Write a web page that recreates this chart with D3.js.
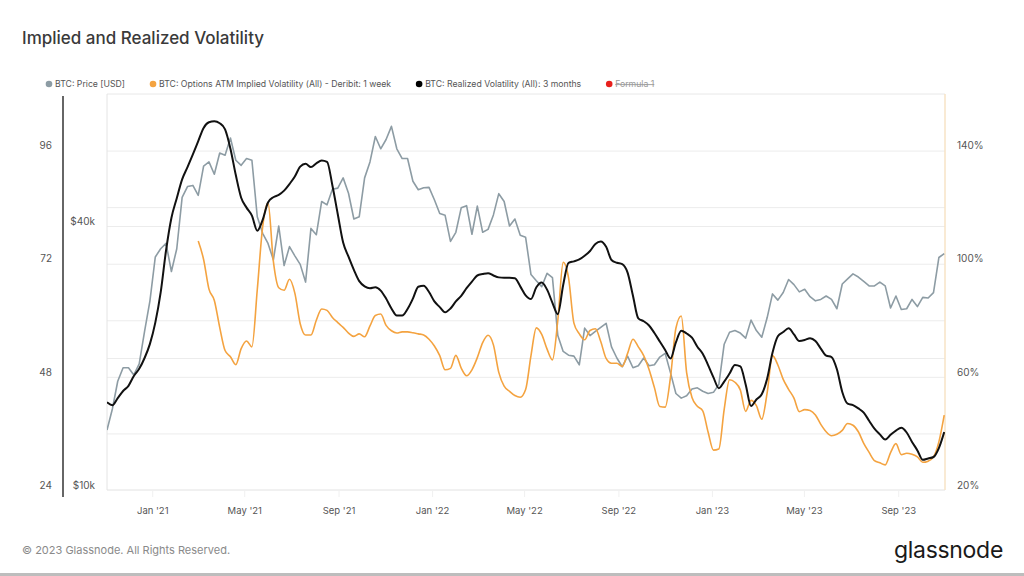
<!DOCTYPE html>
<html><head><meta charset="utf-8">
<script src="https://cdn.jsdelivr.net/npm/d3@7"></script>
<style>
html,body{margin:0;padding:0;background:#fff;}
svg{display:block;font-family:Inter,"Noto Sans",sans-serif;}
</style></head>
<body><svg id="c" width="1024" height="576"></svg>
<script>
// ---- data (weekly samples starting 2020-11-03) ----
const startDate = "2020-11-03";
const weekStep = 7;
const priceUSD = [13700,15300,17700,19000,19000,18300,19400,23000,27000,
34000,35500,36500,31500,35500,46500,49200,49500,47000,54800,56000,52500,58700,58000,63500,56500,55000,57000,56500,42000,38500,36500,33500,40000,32500,35900,34200,32700,29800,39500,38200,45500,44700,48500,48800,51500,47500,41500,42000,51500,56000,64000,60000,63000,67500,60000,57000,57000,50600,48400,48900,49000,
45900,42700,42300,36900,38700,44000,44500,38300,44400,38700,39300,42400,47400,45500,40000,41500,38100,37700,31000,30000,29100,31200,30500,22500,20700,20300,20200,19300,23400,22500,23000,23500,24000,21200,20000,19100,20200,19000,19200,20000,19200,19300,20100,20500,18500,16600,16200,16400,17000,17100,16800,16600,
16700,17400,21500,22900,23100,22800,22200,24400,23100,22300,24700,28000,27100,28200,30200,29400,28300,28700,27600,27000,27200,27700,27200,25900,29500,30300,31100,30600,29900,29200,29200,29800,29200,26000,27700,25800,25900,27200,26200,27500,27400,28200,33900,34600];
const realizedVol = [42.6,42,43.5,45,46.1,48.2,49.7,52,55,59.5,65.9,74.8,81.7,85.9,89.9,92.5,95.2,98,100.8,102,102.2,101.8,100.5,96.4,90.8,86,83.9,82.2,79,81.3,85,86.1,86.6,87.5,88.9,90.5,92.6,93.2,92.5,93.3,93.9,93.6,88.6,82.5,76.5,73.5,70.7,68.3,67.2,66.8,67,66.3,64.6,62.5,61,61,62.4,64.6,67.1,67.3,66,64,62.8,61.7,62.5,64,65.2,66.8,68.2,69.5,69.8,70,69.5,69.1,69,69,68.9,67.2,65.3,64.5,67,68,66.5,63.7,61.3,67.5,72.2,72.5,72.9,73.7,74.7,76.2,76.7,75.6,72.8,72.2,71.9,70.1,65.2,60.4,59.8,58.9,57.3,55.5,53.7,51.9,55.3,57.8,57.2,56.3,54.4,52.9,50.5,47.9,45.6,47,48.7,50.5,50.2,46.4,41.8,43.2,44.3,47.6,53.1,56.6,57.5,58.3,57,55.6,55.8,56.2,55.6,54,52.5,52.2,49.6,44.8,42.3,42,41.3,40.4,38.7,37,35.8,34.7,35.7,36.6,37.2,36.2,34.2,32.4,30.4,30.7,31,32.9,36.3];
// implied volatility (%) — no data before week 17 (2021-03-02)
const impliedVol = [null,null,null,null,null,null,null,null,null,null,null,null,null,null,null,null,null,
108,101.5,91,87,77.5,69.3,67.1,64.3,70,72.7,70.6,90.8,113,121.5,100.8,91.5,90.6,94.5,89.6,78.8,74.8,74.8,80,84,83.5,81,79.2,77.5,75.5,74.3,75.2,74.2,78,81.7,82.2,78.2,76.3,75.5,75.9,75.9,75.6,75.2,74.8,73.3,70.9,67.5,62.5,63,67.6,63.1,60.4,62.5,66.8,72.1,74.7,71.3,61.6,56.7,54.9,53.4,52.8,55.5,67.5,77.3,75,69.8,66,80,100.5,95,79,75.2,73.1,76.4,77,72.5,66.5,64.8,64.8,63.7,68.3,73.3,70.6,67.5,62.6,56.2,49.5,49.3,60,77.2,81.5,61.5,52.7,49.6,48,40.5,34.1,34.5,48.5,59,58.1,55.4,47.8,51.7,49.8,45,54.3,67.5,64.2,59.1,55.6,52.5,47.7,48.4,48.1,46.5,43.2,40.6,39.2,39.7,41.1,43.5,42.9,40.6,36.5,33.3,30.4,29.6,28.9,33.2,36.4,32.5,33,32.6,31.7,29.8,30.2,31.7,37,46.5];

const domainDates = ["2020-11-03","2023-11-01"];
const volTicks = [24,48,72,96];
const volGrid = [36,48,60,72,84,96];
const priceTicks = [10000,40000];
const priceGrid = [20000,40000];
const ivTicks = [20,60,100,140];
const legendLabels = ["BTC: Price [USD]","BTC: Options ATM Implied Volatility (All) - Deribit: 1 week","BTC: Realized Volatility (All): 3 months","Formula 1"];
const legendColors = ["#8d9ca4","#f4a340","#000000","#e8201c"];

// ---- drawing ----
const svg = d3.select("#c");
const L=107,R=945,T=94,B=490;
const parse = d3.utcParse("%Y-%m-%d");
const t0 = parse(startDate);
const dates = priceUSD.map((_,i)=>d3.utcDay.offset(t0,i*weekStep));

const x = d3.scaleUtc().domain(domainDates.map(parse)).range([L,R]);
const yVol = d3.scaleLinear().domain([24,108]).range([B,T]);
const yIV = d3.scaleLinear().domain([20,160]).range([B,T]);
const yPrice = d3.scaleLog().domain([10000,80000]).range([B,T]);

// title
svg.append("text").attr("x",22).attr("y",44).attr("font-size",17).attr("font-weight",500)
  .attr("fill","#3a3a3a").text("Implied and Realized Volatility");

// legend
const lg = svg.append("g");
let lx = 49;
legendLabels.forEach((lab,i)=>{
  lg.append("circle").attr("cx",lx).attr("cy",84).attr("r",3.3).attr("fill",legendColors[i]);
  const t = lg.append("text").attr("x",lx+6).attr("y",87.3).attr("font-size",8.7)
    .attr("fill",i===3?"#999":"#555").text(lab);
  if(i===3) t.attr("text-decoration","line-through");
  lx += 6 + t.node().getComputedTextLength() + 28;
});

// grid
const grid = svg.append("g");
grid.append("g").attr("transform",`translate(${L},0)`)
  .call(d3.axisLeft(yVol).tickValues(volGrid).tickSize(-(R-L)).tickFormat(""))
  .call(g=>g.select(".domain").remove())
  .call(g=>g.selectAll("line").attr("stroke","#ececec"));
grid.append("g").attr("transform",`translate(${L},0)`)
  .call(d3.axisLeft(yPrice).tickValues(priceGrid).tickSize(-(R-L)).tickFormat(""))
  .call(g=>g.select(".domain").remove())
  .call(g=>g.selectAll("line").attr("stroke","#ececec"));

// frame
svg.append("line").attr("x1",L).attr("x2",R).attr("y1",T).attr("y2",T).attr("stroke","#e8e8e8");
svg.append("line").attr("x1",L).attr("x2",L).attr("y1",T).attr("y2",B).attr("stroke","#e4e4e4");
svg.append("line").attr("x1",L).attr("x2",R).attr("y1",B).attr("y2",B).attr("stroke","#e2e2e2");
svg.append("line").attr("x1",R).attr("x2",R).attr("y1",T).attr("y2",B).attr("stroke","#f7e3c6").attr("stroke-width",1.5);

// x axis
svg.append("g").attr("transform",`translate(0,${B})`)
  .call(d3.axisBottom(x).ticks(d3.utcMonth.filter(d=>d.getUTCMonth()%4===0)).tickSizeInner(7).tickSizeOuter(0).tickPadding(10)
    .tickFormat(d3.utcFormat("%b '%y")))
  .call(g=>g.select(".domain").remove())
  .call(g=>g.selectAll("line").attr("stroke","#f0f0f0"))
  .call(g=>g.selectAll("text").attr("fill","#555").attr("font-size",9.5).attr("font-family","Inter,sans-serif"));

// left vol axis
svg.append("line").attr("x1",63).attr("x2",63).attr("y1",96).attr("y2",497).attr("stroke","#333").attr("stroke-width",1.5);
svg.append("g").attr("transform","translate(52,-5)")
  .call(d3.axisLeft(yVol).tickValues(volTicks).tickSize(0).tickPadding(0).tickFormat(d3.format("d")))
  .call(g=>g.select(".domain").remove())
  .call(g=>g.selectAll("text").attr("fill","#555").attr("font-size",10).attr("font-family","Inter,sans-serif"));
// price axis
svg.append("g").attr("transform","translate(95,-5)")
  .call(d3.axisLeft(yPrice).tickValues(priceTicks).tickSize(0).tickPadding(0).tickFormat(d=>"$"+(d/1000)+"k"))
  .call(g=>g.select(".domain").remove())
  .call(g=>g.selectAll("text").attr("fill","#555").attr("font-size",10).attr("font-family","Inter,sans-serif"));
// right IV axis
svg.append("g").attr("transform","translate(957,-5)")
  .call(d3.axisRight(yIV).tickValues(ivTicks).tickSize(0).tickPadding(0).tickFormat(d=>d+"%"))
  .call(g=>g.select(".domain").remove())
  .call(g=>g.selectAll("text").attr("fill","#555").attr("font-size",10).attr("font-family","Inter,sans-serif"));

// lines
svg.append("clipPath").attr("id","pc").append("rect").attr("x",L).attr("y",T).attr("width",R-L).attr("height",B-T);
const pl = svg.append("g").attr("clip-path","url(#pc)");
pl.append("path").datum(priceUSD.map((v,i)=>[dates[i],v]))
  .attr("fill","none").attr("stroke","#8d9ca4").attr("stroke-width",1.6).attr("stroke-linejoin","round")
  .attr("d",d3.line().x(d=>x(d[0])).y(d=>yPrice(d[1])));
pl.append("path").datum(impliedVol.map((v,i)=>[dates[i],v]))
  .attr("fill","none").attr("stroke","#f4a340").attr("stroke-width",1.6).attr("stroke-linejoin","round")
  .attr("d",d3.line().defined(d=>d[1]!=null).x(d=>x(d[0])).y(d=>yIV(d[1])).curve(d3.curveMonotoneX));
pl.append("path").datum(realizedVol.map((v,i)=>[dates[i],v]))
  .attr("fill","none").attr("stroke","#111").attr("stroke-width",2).attr("stroke-linejoin","round")
  .attr("d",d3.line().x(d=>x(d[0])).y(d=>yVol(d[1])).curve(d3.curveMonotoneX));

// footer
svg.append("text").attr("x",22).attr("y",554).attr("font-size",11).attr("fill","#8a8a8a")
  .text("© 2023 Glassnode. All Rights Reserved.");
svg.append("text").attr("x",1003).attr("y",558).attr("text-anchor","end").attr("font-size",23).attr("fill","#1a1a1a")
  .attr("letter-spacing",-0.3).text("glassnode");
svg.append("rect").attr("x",0).attr("y",573).attr("width",1024).attr("height",3).attr("fill","#bdbdbd");
</script></body></html>
